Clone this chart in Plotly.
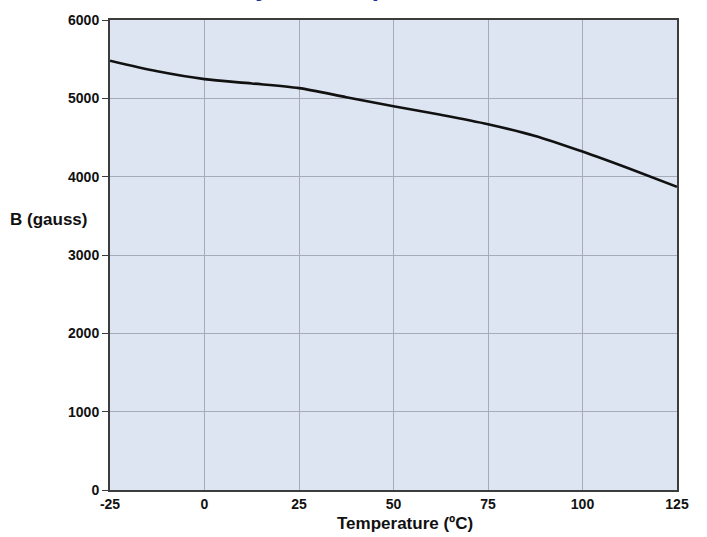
import plotly.graph_objects as go

# temperature (degC) vs flux density B (gauss)
temps = [-25, -12.5, 0, 12.5, 25, 37.5, 50, 62.5, 75, 87.5, 100, 112.5, 125]
b_gauss = [5480, 5345, 5245, 5190, 5130, 5015, 4900, 4790, 4670, 4520, 4320, 4100, 3870]

x_ticks = [-25, 0, 25, 50, 75, 100, 125]
x_ticktext = ["-25", "0", "25", "50", "75", "100", "125"]
y_ticks = [0, 1000, 2000, 3000, 4000, 5000, 6000]

title_text = "Flux Density vs. Temperature"
x_title = "Temperature (ºC)"
y_title = "B (gauss)"

FONT = "Arial, 'Liberation Sans', sans-serif"
AXIS = "#3c3c3c"
GRID = "#a6abb8"

fig = go.Figure()
fig.add_trace(go.Scatter(
    x=temps, y=b_gauss,
    mode="lines",
    line=dict(color="#111111", width=2.6, shape="spline", smoothing=0.8),
    hoverinfo="skip",
    showlegend=False,
))

fig.update_xaxes(
    range=[-25, 125], tickvals=x_ticks, ticktext=x_ticktext,
    showgrid=True, gridcolor=GRID, gridwidth=1,
    showline=True, linecolor=AXIS, linewidth=2, mirror=True,
    ticks="", zeroline=False,
    tickfont=dict(family=FONT, size=14, color="#111111", weight="bold"),
)
fig.update_yaxes(
    range=[0, 6000], tickvals=y_ticks,
    showgrid=True, gridcolor=GRID, gridwidth=1,
    showline=True, linecolor=AXIS, linewidth=2, mirror=True,
    ticks="outside", ticklen=6, tickcolor=AXIS, tickwidth=1,
    zeroline=False,
    tickfont=dict(family=FONT, size=14, color="#111111", weight="bold"),
)

# title sits mostly above the page, only descenders show (as in the reference)
fig.add_annotation(
    text=f"<b>{title_text}</b>", xref="paper", yref="paper",
    x=0.005, y=1.034, xanchor="left", yanchor="bottom", showarrow=False,
    font=dict(family=FONT, size=26, color="#1c2f96"),
)
fig.add_annotation(
    text=f"<b>{y_title}</b>", xref="paper", yref="paper",
    x=-0.18, y=0.575, xanchor="left", yanchor="middle", showarrow=False,
    font=dict(family=FONT, size=17, color="#111111"),
)
fig.add_annotation(
    text=f"<b>{x_title}</b>", xref="paper", yref="paper",
    x=0.52, y=-0.072, xanchor="center", yanchor="middle", showarrow=False,
    font=dict(family=FONT, size=17, color="#111111"),
)

fig.update_layout(
    width=707, height=537,
    margin=dict(l=110, r=30, t=16, b=47),
    plot_bgcolor="#dde5f2",
    paper_bgcolor="white",
)
fig.write_html("out.html", config={"displayModeBar": False},
               post_script="document.body.style.margin='0';")
